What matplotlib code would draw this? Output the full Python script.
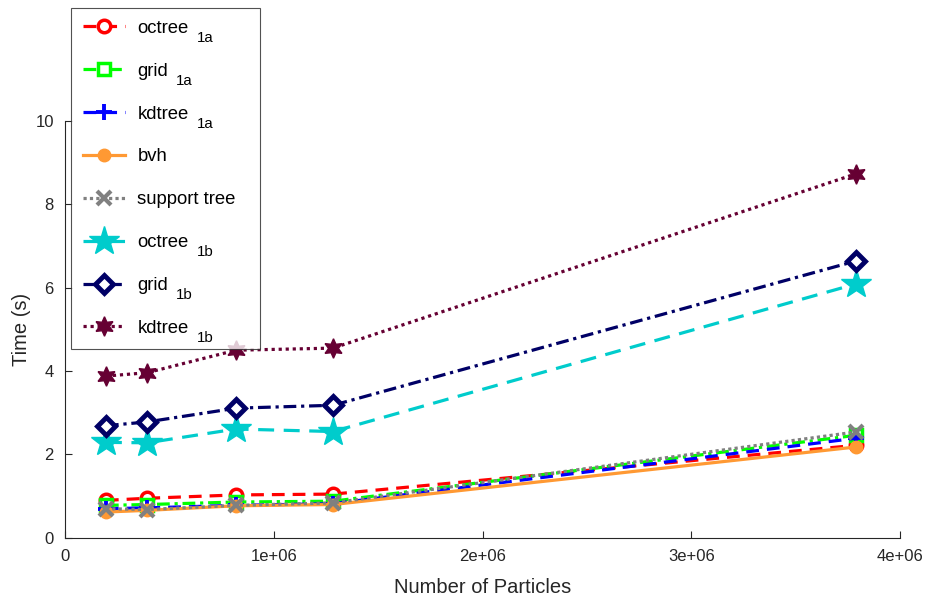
import numpy as np
import matplotlib
matplotlib.use("Agg")
import matplotlib.pyplot as plt
from matplotlib.transforms import IdentityTransform

plt.rcParams["font.family"] = ["Liberation Sans", "DejaVu Sans"]

# === Data ===
particles = [0.196e6, 0.393e6, 0.819e6, 1.284e6, 3.789e6]

octree_1a = [0.90, 0.95, 1.03, 1.05, 2.22]
grid_1a = [0.78, 0.80, 0.86, 0.88, 2.46]
kdtree_1a = [0.70, 0.72, 0.78, 0.82, 2.39]
bvh = [0.62, 0.66, 0.77, 0.80, 2.18]
support_tree = [0.70, 0.68, 0.78, 0.84, 2.54]
octree_1b = [2.29, 2.28, 2.61, 2.55, 6.09]
grid_1b = [2.69, 2.78, 3.11, 3.18, 6.64]
kdtree_1b = [3.88, 3.96, 4.50, 4.55, 8.73]

names = ["octree", "grid", "kdtree", "bvh", "support tree", "octree", "grid", "kdtree"]
subs = ["1a", "1a", "1a", "", "", "1b", "1b", "1b"]

series = [octree_1a, grid_1a, kdtree_1a, bvh, support_tree, octree_1b, grid_1b, kdtree_1b]

styles = [
    dict(color="#ff0000", ls=(0, (4, 2.5)), marker="o", mfc="white", ms=9, mew=2.5),
    dict(color="#00ff00", ls=(0, (4, 1.5, 1, 1.5)), marker="s", mfc="white", ms=8.5, mew=2.5),
    dict(color="#0000ff", ls=(0, (4, 2.5)), marker="+", ms=11, mew=2.8),
    dict(color="#ff9933", ls="-", marker="o", ms=9),
    dict(color="#808080", ls=(0, (1, 1)), marker="x", ms=10, mew=3),
    dict(color="#00cccc", ls=(0, (5, 3)), marker="*", ms=22),
    dict(color="#000066", ls=(0, (4, 1.5, 1, 1.5)), marker="D", mfc="white", ms=9, mew=3.5),
    dict(color="#660033", ls=(0, (1, 1.2)), marker=(6, 1, 0), ms=14),
]

fig = plt.figure(figsize=(9.28, 6.01), dpi=100)
ax = fig.add_axes([0.070, 0.105, 0.900, 0.694])

for y, lab, st in zip(series, names, styles):
    ax.plot(particles, y, label=lab, lw=2.3, **st)

ax.set_xlim(0, 4e6)
ax.set_ylim(0, 10)
ax.set_xticks([0, 1e6, 2e6, 3e6, 4e6])
ax.set_xticklabels(["0", "1e+06", "2e+06", "3e+06", "4e+06"])
ax.set_yticks([0, 2, 4, 6, 8, 10])
ax.set_xlabel("Number of Particles", fontsize=14.5, color="#262626", labelpad=10)
ax.set_ylabel("Time (s)", fontsize=14.5, color="#262626", labelpad=3)
ax.tick_params(direction="in", length=5, width=0.8, labelsize=12, colors="#262626", pad=8)
for side in ["top", "right"]:
    ax.spines[side].set_visible(False)
for side in ["left", "bottom"]:
    ax.spines[side].set_color("#262626")
    ax.spines[side].set_linewidth(0.8)

# legend box spans a fixed width; rows evenly spaced
leg = ax.legend(loc="upper left",
                bbox_to_anchor=(71 / 928, 1 - 8 / 601, 189 / 928, 0.0),
                bbox_transform=fig.transFigure, mode="expand", borderaxespad=0,
                fontsize=13.3, frameon=True, fancybox=False, handlelength=2.3,
                labelspacing=1.40, borderpad=0.64, handletextpad=0.65)
leg.get_frame().set_edgecolor("#262626")
leg.get_frame().set_linewidth(0.8)

# subscripts hang below and to the right of the label names
fig.canvas.draw()
for t, s in zip(leg.get_texts(), subs):
    if not s:
        continue
    bb = t.get_window_extent()
    fig.text(bb.x1 + 8, bb.y0 - 5, s, transform=IdentityTransform(),
             fontsize=10.8, va="baseline", ha="left", zorder=10)

fig.savefig("out.png", dpi=100)
